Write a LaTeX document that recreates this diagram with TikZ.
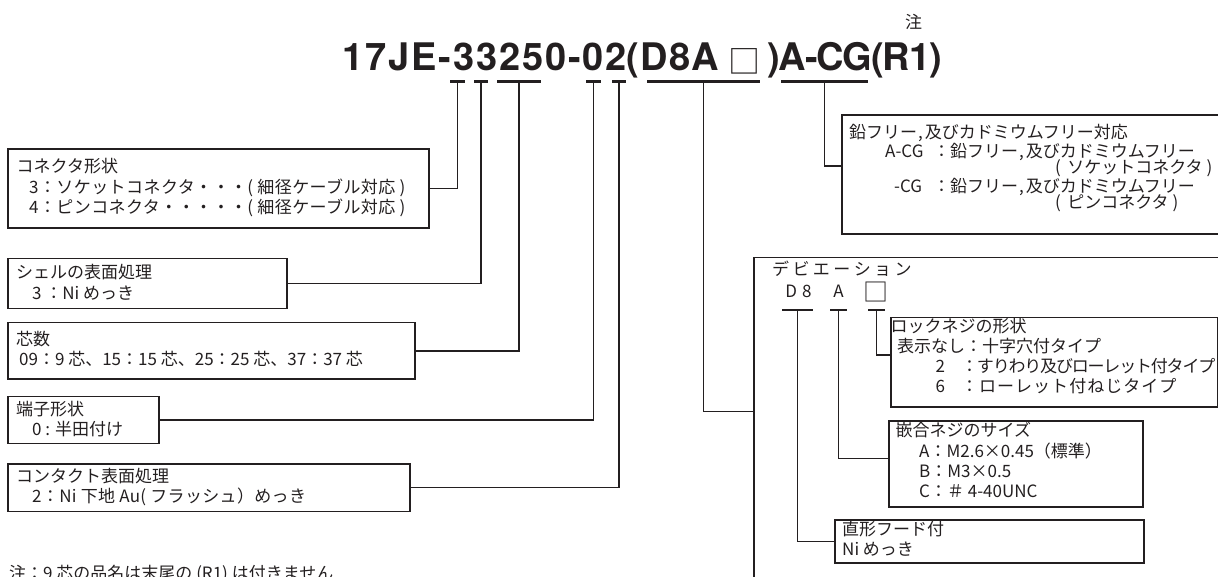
\documentclass[tikz,border=0pt]{standalone}
\usepackage{fontspec}
\setmainfont{Noto Sans CJK JP}
\newfontfamily\jp{Noto Sans CJK JP}
\newfontfamily\ttl{TeX Gyre Heros}
\usetikzlibrary{calc}
\definecolor{ink}{HTML}{231F20}
\newcommand\jfont{\jp\fontsize{17}{20}\selectfont}
\newcommand\tk{\kern3.4pt}
\newcommand\ls[1]{\addfontfeature{LetterSpace=#1}}
\begin{document}
\begin{tikzpicture}[x=1pt,y=-1pt,
  box/.style={draw=ink, line width=1.5pt, rectangle, inner sep=0pt, anchor=north west},
  ln/.style={anchor=west, inner sep=0pt, text height=14pt, text depth=3pt, font=\jfont, text=ink},
  sq/.style={inner sep=0pt, text=ink, font=\jp\fontsize{25}{25}\selectfont},
  conn/.style={draw=ink, line width=1.5pt},
  uline/.style={draw=ink, line width=3pt},
  uline2/.style={draw=ink, line width=2pt}]
\useasboundingbox (0,0) rectangle (1218,576);

% title
\node[anchor=base west, inner sep=0pt, text=ink, font=\ttl\bfseries\fontsize{38}{40}\selectfont] (title) at (342,70)
  {{\ls{5}17JE-33250-02}{\ls{3}(D8A}\kern9pt\raisebox{-3pt}{\jp\mdseries\fontsize{32}{32}\selectfont □}\kern7pt{\ls{-3})A-CG(R1)}};
\node[inner sep=0pt, text=ink, font=\jp\fontsize{17}{17}\selectfont] (chu) at (913.5,21.5) {注};

% title underlines
\coordinate (u1a) at (450,81);   \coordinate (u1b) at (465,81);
\coordinate (u2a) at (474,81);   \coordinate (u2b) at (488,81);
\coordinate (u3a) at (497,81);   \coordinate (u3b) at (541,81);
\coordinate (u4a) at (586,81);   \coordinate (u4b) at (601,81);
\coordinate (u5a) at (612,81);   \coordinate (u5b) at (626,81);
\coordinate (u6a) at (647,81);   \coordinate (u6b) at (760,81);
\coordinate (u7a) at (781,81);   \coordinate (u7b) at (868,81);
\foreach \i in {1,...,7} {\draw[uline] (u\i a) -- (u\i b);}

% left boxes
\node[box, minimum width=421pt, minimum height=79pt] (b1) at (7,148) {};
\node[box, minimum width=279pt, minimum height=50pt] (b2) at (7,257.7) {};
\node[box, minimum width=407pt, minimum height=56.6pt] (b3) at (7,321.7) {};
\node[box, minimum width=151pt, minimum height=47pt] (b4) at (7,395.7) {};
\node[box, minimum width=402pt, minimum height=47.7pt] (b5) at (7,463) {};

\node[ln] (b1t1) at (16.5,166.7) {コネクタ形状};
\node[ln] (b1t2) at (29,188) {\ls{2.5}3：ソケットコネクタ・・・(\ 細径ケーブル対応\ )};
\node[ln] (b1t3) at (29,208) {\ls{2.5}4：ピンコネクタ・・・・・(\ 細径ケーブル対応\ )};
\node[ln] (b2t1) at (16,273) {シェルの表面処理};
\node[ln] (b2t2) at (32,294) {3 ：Ni めっき};
\node[ln] (b3t1) at (16,340) {芯数};
\node[ln] (b3t2) at (19,360) {09：9 芯、15：15 芯、25：25 芯、37：37 芯};
\node[ln] (b4t1) at (16,410) {端子形状};
\node[ln] (b4t2) at (32,430) {0 : 半田付け};
\node[ln] (b5t1) at (16,477) {コンタクト表面処理};
\node[ln] (b5t2) at (32,497) {\ls{2}2：Ni 下地 Au( フラッシュ）めっき};
\node[ln] (note) at (9,574) {注：9 芯の品名は末尾の (R1) は付きません};

% left connectors
\draw[conn] ($(u1a)!0.5!(u1b)$) |- (b1.east);
\draw[conn] ($(u2a)!0.5!(u2b)$) |- (b2.east);
\draw[conn] ($(u3a)!0.5!(u3b)$) |- (b3.east);
\draw[conn] ($(u4a)!0.5!(u4b)$) |- (b4.east);
\draw[conn] ($(u5a)!0.5!(u5b)$) |- (b5.east);

% lead free box
\node[box, minimum width=400pt, minimum height=119pt] (lf) at (841,114) {};
\node[ln] (lf1) at (849,133) {鉛フリー\kern1pt,\kern2pt及びカドミウムフリー対応};
\node[ln] (lf2a) at (885,152) {A-CG};
\node[ln] (lf2b) at (933,152) {：鉛フリー\kern1pt,\kern2pt及びカドミウムフリー};
\node[ln] (lf3) at (1055,168) {(\hspace{6.4pt}ソケットコネクタ\hspace{4pt})};
\node[ln] (lf4a) at (894,187) {-CG};
\node[ln] (lf4b) at (933,187) {：鉛フリー\kern1pt,\kern2pt及びカドミウムフリー};
\node[ln] (lf5) at (1055,203) {(\hspace{6.4pt}ピンコネクタ\hspace{4pt})};
\draw[conn] ($(u7a)!0.5!(u7b)$) |- ([yshift=8.5pt]lf.west);

% deviation box
\node[box, minimum width=500pt, minimum height=400pt] (dev) at (753.3,256.7) {};
\draw[conn] ($(u6a)!0.5!(u6b)$) |- ($(dev.north west)+(0,155)$);
\node[ln] (devt) at (772,270) {デ\tk ビ\tk エ\tk ー\tk シ\tk ョ\tk ン};
\node[ln, anchor=center] (dD) at (798.5,291.7) {D\kern5pt 8};
\node[ln, anchor=center] (dA) at (838.5,291.7) {A};
\node[sq] (dS) at (876,291.5) {□};
\coordinate (d1a) at (782,310); \coordinate (d1b) at (813,310);
\coordinate (d2a) at (830,310); \coordinate (d2b) at (847,310);
\coordinate (d3a) at (868,310); \coordinate (d3b) at (885,310);
\foreach \i in {1,2,3} {\draw[uline2] (d\i a) -- (d\i b);}

% lock screw box
\node[box, minimum width=327.3pt, minimum height=89.3pt] (lk) at (890,316.7) {};
\node[ln] (lk1) at (890.5,326.7) {ロックネジの形状};
\node[ln] (lk2) at (897,346.7) {表示なし：十字穴付タイプ};
\node[ln] (lk3) at (935.5,366.7) {2\hspace{16pt}{\ls{-7}：すりわり及びローレット付タイプ}};
\node[ln] (lk4) at (935.5,386.7) {6\hspace{16pt}{\ls{6}：ローレット付ねじタイプ}};
\draw[conn] ($(d3a)!0.5!(d3b)$) |- ([yshift=7.3pt]lk.west);

% fitting screw box
\node[box, minimum width=254pt, minimum height=86pt] (fs) at (888.3,420) {};
\node[ln] (fs1) at (895.5,430.7) {嵌合ネジのサイズ};
\node[ln] (fs2) at (919,451.7) {A：M2.6×0.45（標準）};
\node[ln] (fs3) at (919,471.7) {B：M3×0.5};
\node[ln] (fs4) at (919,491.7) {C：＃ 4-40UNC};
\draw[conn] ($(d2a)!0.5!(d2b)$) |- ([yshift=5.3pt]fs.west);

% hood box
\node[box, minimum width=309pt, minimum height=43pt] (hd) at (834.3,519.3) {};
\node[ln] (hd1) at (842,530) {直形フード付};
\node[ln] (hd2) at (842,550) {Ni めっき};
\draw[conn] ($(d1a)!0.5!(d1b)$) |- (hd.west);
\end{tikzpicture}
\end{document}
